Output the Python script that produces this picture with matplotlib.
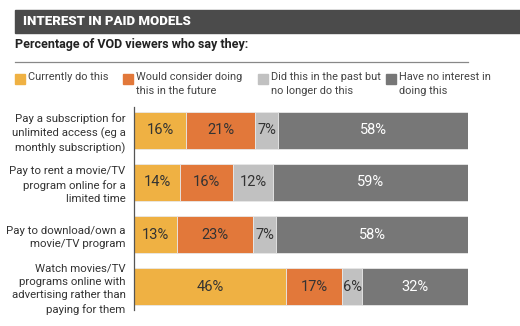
import matplotlib.pyplot as plt
import numpy as np
from matplotlib.patches import Rectangle

plt.rcParams["font.family"] = ["Roboto", "DejaVu Sans"]

categories = [
    "Pay a subscription for\nunlimited access (eg a\nmonthly subscription)",
    "Pay to rent a movie/TV\nprogram online for a\nlimited time",
    "Pay to download/own a\nmovie/TV program",
    "Watch movies/TV\nprograms online with\nadvertising rather than\npaying for them",
]
series_names = [
    "Currently do this",
    "Would consider doing\nthis in the future",
    "Did this in the past but\nno longer do this",
    "Have no interest in\ndoing this",
]
currently = [16, 14, 13, 46]
would_consider = [21, 16, 23, 17]
past = [7, 12, 7, 6]
no_interest = [58, 59, 58, 32]

colors = ["#efb143", "#e2783a", "#c1c1c1", "#777777"]
text_colors = ["#333333", "#333333", "#333333", "#ffffff"]

W, H = 520, 326
fig = plt.figure(figsize=(W / 100, H / 100), dpi=100)


def fx(px):
    return px / W


def fy(py):
    return 1 - py / H


# header band
fig.patches.append(Rectangle((fx(15), fy(33)), fx(505), 23 / H, transform=fig.transFigure,
                             color="#4b4b4b", zorder=0))
fig.text(fx(23), fy(21.5), "INTEREST IN PAID MODELS", color="white", fontsize=9.5,
         fontweight="black", va="center", ha="left")
fig.text(fx(15), fy(44.5), "Percentage of VOD viewers who say they:", color="#222222",
         fontsize=9.0, fontweight="bold", va="center", ha="left")
fig.lines.append(plt.Line2D([fx(15), fx(468)], [fy(62), fy(62)], transform=fig.transFigure,
                            color="#888888", lw=0.9))

# legend
legend_x = [15, 123, 258, 386]
for x, name, c in zip(legend_x, series_names, colors):
    fig.patches.append(Rectangle((fx(x), fy(84)), 10 / W, 10 / H, transform=fig.transFigure,
                                 color=c))
    fig.text(fx(x + 13), fy(72.5), name, fontsize=7.9, color="#444444", va="top", ha="left",
             linespacing=1.45)

# bars
ax = fig.add_axes([fx(134), fy(310), fx(468) - fx(134), (310 - 107) / H])
data = np.array([currently, would_consider, past, no_interest], dtype=float)
shares = data / data.sum(axis=0) * 100
y = np.arange(len(categories))
left = np.zeros(len(categories))
for vals, shr, c, tc in zip(data, shares, colors, text_colors):
    ax.barh(y, shr, left=left, height=0.72, color=c, edgecolor="#e8e8e8", linewidth=0.6)
    for yi, v, l, s in zip(y, vals, left, shr):
        ax.text(l + s / 2, yi, f"{v:.0f}%", ha="center", va="center", color=tc, fontsize=10.5)
    left += shr

ax.set_xlim(0, 100)
ax.set_ylim(3.45, -0.45)
ax.set_yticks(y)
ax.set_yticklabels(categories, fontsize=8.2, color="#333333", linespacing=1.4)
ax.tick_params(axis="y", length=0, pad=6)
ax.set_xticks([])
for side in ["top", "right", "bottom"]:
    ax.spines[side].set_visible(False)
ax.spines["left"].set_color("#555555")
ax.spines["left"].set_linewidth(0.9)

fig.savefig("out.png", dpi=100)
